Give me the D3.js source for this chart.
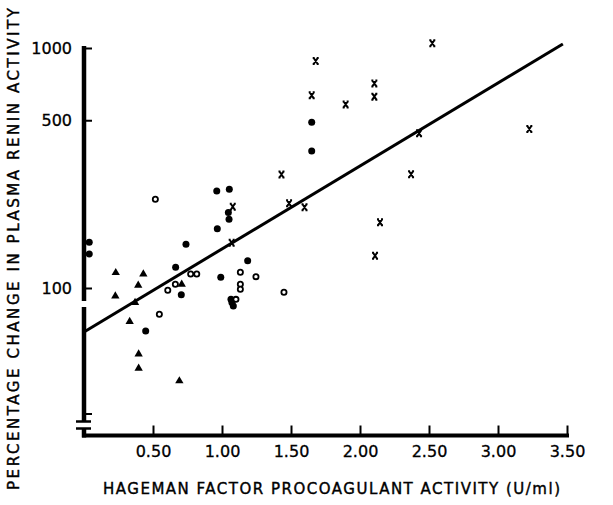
<!DOCTYPE html>
<html>
<head>
<meta charset="utf-8">
<script src="https://cdn.jsdelivr.net/npm/d3@7"></script>
<style>
  body { margin: 0; background: #fff; }
  text { font-family: "DejaVu Sans", sans-serif; fill: #000; }
</style>
</head>
<body>
<script>
var w = 613;
var h = 505;

// data: [Hageman factor U/ml, % change in PRA]
var filledCircles = [
  [0.038, 155], [0.038, 138.6], [0.962, 253.7], [1.053, 257.8], [1.046, 206.1],
  [1.051, 193.2], [0.966, 176.6], [0.739, 152.1], [1.186, 130], [0.664, 121.9],
  [0.991, 110.8], [0.705, 93.8], [0.447, 66.2], [1.065, 89.7], [1.082, 84.1],
  [1.072, 87.0], [1.65, 490], [1.65, 372]
];
var openCircles = [
  [0.517, 234.2], [0.773, 114.4], [0.817, 114.4], [1.133, 116.3], [1.246, 111.5],
  [1.133, 103.6], [1.133, 98.8], [1.449, 96.0], [0.662, 103.6], [0.607, 97.8],
  [0.546, 77.7], [1.101, 89.7]
];
var triangles = [
  [0.230, 115.8], [0.430, 114.4], [0.393, 102.6], [0.227, 92.6], [0.370, 86.9],
  [0.331, 72.4], [0.396, 53.1], [0.396, 46.3], [0.691, 41.0], [0.708, 103.6]
];
var crosses = [
  [1.078, 218.1], [1.070, 154.4], [1.431, 297], [1.486, 225.3], [1.598, 216.9],
  [2.524, 1046], [1.679, 883], [2.104, 712], [2.104, 627], [1.650, 635],
  [1.896, 582], [3.227, 460], [2.428, 441], [2.370, 298], [2.145, 187.7],
  [2.109, 136.3]
];
var fitLine = [[0, 65.6], [3.47, 1040]];

var xTicks = [0.5, 1, 1.5, 2, 2.5, 3, 3.5];
var yTicks = [30, 100, 500, 1000];
var yTickLabels = ["", "100", "500", "1000"];

var xScale = d3.scaleLinear()
               .domain([0, 3.5])
               .range([84, 567]);

var yScale = d3.scaleLog()
               .domain([100, 1000])
               .range([288, 48]);

var svg = d3.select("body")
            .append("svg")
            .attr("width", w)
            .attr("height", h);

// axes: ticks + labels from d3, thick spines drawn by hand
var xAxis = d3.axisBottom(xScale)
              .tickValues(xTicks)
              .tickSize(-10)
              .tickPadding(10)
              .tickFormat(d3.format(".2f"));

var yAxis = d3.axisLeft(yScale)
              .tickValues(yTicks)
              .tickSize(-8)
              .tickPadding(12)
              .tickFormat(function(d, i) { return yTickLabels[i]; });

var gx = svg.append("g")
   .attr("transform", "translate(0,435.5)")
   .call(xAxis);

var gy = svg.append("g")
   .attr("transform", "translate(84,0)")
   .call(yAxis);

[gx, gy].forEach(function(g) {
  g.select(".domain").remove();
  g.selectAll(".tick line").attr("stroke", "#000").attr("stroke-width", 2);
  g.selectAll(".tick text")
   .attr("font-size", "16px")
   .attr("font-family", "DejaVu Sans")
   .attr("fill", "#000")
   .attr("stroke", "#000")
   .attr("stroke-width", 0.3);
});

// y spine with gap and break
var ySegs = [[46, 301], [307, 422], [428, 437.5]];
svg.selectAll("line.yspine")
   .data(ySegs)
   .enter()
   .append("line")
   .attr("x1", 84).attr("x2", 84)
   .attr("y1", function(d) { return d[0]; })
   .attr("y2", function(d) { return d[1]; })
   .attr("stroke", "#000")
   .attr("stroke-width", 4.5);

svg.selectAll("line.brk")
   .data([421.5, 428.5])
   .enter()
   .append("line")
   .attr("x1", 76).attr("x2", 91)
   .attr("y1", function(d) { return d; })
   .attr("y2", function(d) { return d; })
   .attr("stroke", "#000")
   .attr("stroke-width", 2.5);

svg.append("line")
   .attr("x1", 82).attr("x2", 569)
   .attr("y1", 435.5).attr("y2", 435.5)
   .attr("stroke", "#000")
   .attr("stroke-width", 4);

// regression line
var line = d3.line()
             .x(function(d) { return xScale(d[0]); })
             .y(function(d) { return yScale(d[1]); });

svg.append("path")
   .datum(fitLine)
   .attr("d", line)
   .attr("fill", "none")
   .attr("stroke", "#000")
   .attr("stroke-width", 3);

// points
svg.selectAll("circle.filled")
   .data(filledCircles)
   .enter()
   .append("circle")
   .attr("cx", function(d) { return xScale(d[0]); })
   .attr("cy", function(d) { return yScale(d[1]); })
   .attr("r", 3.5)
   .attr("fill", "#000");

svg.selectAll("circle.open")
   .data(openCircles)
   .enter()
   .append("circle")
   .attr("cx", function(d) { return xScale(d[0]); })
   .attr("cy", function(d) { return yScale(d[1]); })
   .attr("r", 2.6)
   .attr("fill", "#fff")
   .attr("stroke", "#000")
   .attr("stroke-width", 1.8);

svg.selectAll("path.tri")
   .data(triangles)
   .enter()
   .append("path")
   .attr("d", d3.symbol().type(d3.symbolTriangle).size(30))
   .attr("transform", function(d) { return "translate(" + xScale(d[0]) + "," + yScale(d[1]) + ")"; })
   .attr("fill", "#000");

// little typed "x" marks with serifs
svg.selectAll("path.cross")
   .data(crosses)
   .enter()
   .append("path")
   .attr("d", "M-2,-3L2,3M2,-3L-2,3M-3,-3H-1M1,-3H3M-3,3H-1M1,3H3")
   .attr("transform", function(d) { return "translate(" + xScale(d[0]) + "," + yScale(d[1]) + ")"; })
   .attr("fill", "none")
   .attr("stroke", "#000")
   .attr("stroke-width", 2);

// axis titles
svg.append("text")
   .attr("text-anchor", "middle")
   .attr("x", 331.5)
   .attr("y", 494)
   .attr("font-size", "15px")
   .attr("stroke", "#000")
   .attr("stroke-width", 0.4)
   .attr("textLength", 457)
   .attr("lengthAdjust", "spacing")
   .text("HAGEMAN FACTOR PROCOAGULANT ACTIVITY (U/ml)");

svg.append("text")
   .attr("text-anchor", "middle")
   .attr("transform", "rotate(-90)")
   .attr("x", -249)
   .attr("y", 19)
   .attr("font-size", "15px")
   .attr("stroke", "#000")
   .attr("stroke-width", 0.4)
   .attr("textLength", 482)
   .attr("lengthAdjust", "spacing")
   .text("PERCENTAGE CHANGE IN PLASMA RENIN ACTIVITY");
</script>
</body>
</html>
